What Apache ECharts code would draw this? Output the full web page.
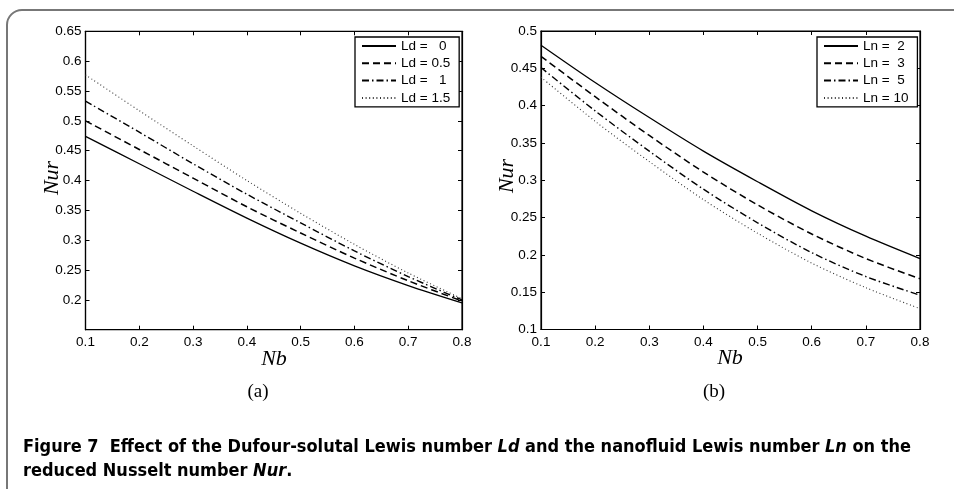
<!DOCTYPE html>
<html>
<head>
<meta charset="utf-8">
<script src="https://cdn.jsdelivr.net/npm/echarts@6/dist/echarts.min.js"></script>
<style>html,body{margin:0;padding:0;background:#fff}#c{width:954px;height:489px}</style>
</head>
<body>
<div id="c"></div>
<script>
// ---- data ----
const nb = [0.1, 0.2, 0.3, 0.4, 0.5, 0.6, 0.7, 0.8];
const ldNames = ['Ld =   0', 'Ld = 0.5', 'Ld =   1', 'Ld = 1.5'];
const ld0  = [0.474, 0.428, 0.382, 0.337, 0.295, 0.257, 0.224, 0.195];
const ld05 = [0.500, 0.452, 0.404, 0.356, 0.312, 0.270, 0.232, 0.198];
const ld1  = [0.533, 0.481, 0.428, 0.377, 0.329, 0.282, 0.239, 0.200];
const ld15 = [0.577, 0.517, 0.458, 0.400, 0.345, 0.293, 0.245, 0.202];
const lnNames = ['Ln =  2', 'Ln =  3', 'Ln =  5', 'Ln = 10'];
const ln2  = [0.481, 0.431, 0.384, 0.339, 0.298, 0.259, 0.225, 0.195];
const ln3  = [0.466, 0.412, 0.360, 0.311, 0.267, 0.228, 0.195, 0.168];
const ln5  = [0.451, 0.393, 0.339, 0.288, 0.243, 0.203, 0.171, 0.146];
const ln10 = [0.438, 0.379, 0.325, 0.274, 0.229, 0.189, 0.156, 0.128];
const xTicks = [0.1, 0.8, 0.1];           // min, max, interval
const yTicksA = [0.15, 0.65, 0.05];
const yTicksB = [0.1, 0.5, 0.05];
const caption1 = 'Figure 7  Effect of the Dufour-solutal Lewis number {i|Ld} and the nanofluid Lewis number {i|Ln} on the';
const caption2 = 'reduced Nusselt number {i|Nur}.';

// ---- styles ----
const styles = [
  {type: 'solid', width: 1.3, color: '#000'},
  {type: [7, 4], width: 1.5, color: '#000'},
  {type: [7, 3, 1.5, 3], width: 1.4, color: '#000'},
  {type: [1, 2.6], width: 1.1, color: '#333'}
];
const tickFont = {fontFamily: '"Liberation Sans", Arial, sans-serif', fontSize: 13.5, color: '#000'};
const fmt = v => String(+(+v).toFixed(2));

function xAxes(grid) {
  const base = {type: 'value', gridIndex: grid, min: xTicks[0], max: xTicks[1], interval: xTicks[2],
    splitLine: {show: false}, axisLine: {lineStyle: {color: '#000', width: 1.2}},
    axisTick: {inside: true, length: 4, lineStyle: {color: '#000'}}};
  return [
    Object.assign({}, base, {position: 'bottom', axisLabel: Object.assign({margin: 6, formatter: fmt}, tickFont)}),
    Object.assign({}, base, {position: 'top', axisLabel: {show: false}})
  ];
}
function yAxes(grid, t, hideMin) {
  const base = {type: 'value', gridIndex: grid, min: t[0], max: t[1], interval: t[2],
    splitLine: {show: false}, axisLine: {lineStyle: {color: '#000', width: 1.2}},
    axisTick: {inside: true, length: 4, lineStyle: {color: '#000'}}};
  return [
    Object.assign({}, base, {position: 'left', axisLabel: Object.assign({margin: 4,
      formatter: v => (hideMin && Math.abs(v - t[0]) < 1e-9) ? '' : fmt(v)}, tickFont)}),
    Object.assign({}, base, {position: 'right', axisLabel: {show: false}})
  ];
}
function mk(name, arr, i, axisIdx) {
  return {type: 'line', name: name, xAxisIndex: axisIdx, yAxisIndex: axisIdx,
    data: nb.map((x, k) => [x, arr[k]]), symbol: 'none', smooth: 0.3,
    lineStyle: styles[i], itemStyle: {color: styles[i].color}, z: 3, animation: false};
}
function legend(names, left, top) {
  return {data: names, orient: 'vertical', left: left, top: top, itemWidth: 34, itemHeight: 14, itemGap: 3.3,
    padding: [2, 9, 2, 6], borderColor: '#000', borderWidth: 1.3, backgroundColor: '#fff',
    itemStyle: {color: 'rgba(0,0,0,0)', borderWidth: 0, opacity: 0},
    textStyle: {fontFamily: '"Liberation Sans", Arial, sans-serif', fontSize: 13.5, color: '#000'},
    selectedMode: false};
}

// caption scale
const capFont = '"Liberation Sans Narrow", "DejaVu Sans Condensed", "Noto Sans", sans-serif';
const ctx = document.createElement('canvas').getContext('2d');
ctx.font = 'bold 18px ' + capFont;
const plain1 = caption1.replace(/\{i\|([^}]*)\}/g, '$1');
const capScale = 888 / ctx.measureText(plain1).width;
const richI = {i: {fontStyle: 'italic', fontWeight: 'bold', fontSize: 18, fontFamily: capFont, fill: '#000'}};
const serif = '"Liberation Serif", "Times New Roman", serif';

const chart = echarts.init(document.getElementById('c'), null, {renderer: 'canvas'});
chart.setOption({
  animation: false,
  grid: [
    {left: 85.5, top: 31.3, width: 376.5, height: 298.4, show: true, borderColor: '#000', borderWidth: 1.2, backgroundColor: 'transparent'},
    {left: 541, top: 31, width: 379, height: 298.5, show: true, borderColor: '#000', borderWidth: 1.2, backgroundColor: 'transparent'}
  ],
  xAxis: xAxes(0).concat(xAxes(1)),
  yAxis: yAxes(0, yTicksA, true).concat(yAxes(1, yTicksB, false)),
  legend: [legend(ldNames, 355, 37), legend(lnNames, 817, 37)],
  series: [
    mk(ldNames[0], ld0, 0, 0), mk(ldNames[1], ld05, 1, 0), mk(ldNames[2], ld1, 2, 0), mk(ldNames[3], ld15, 3, 0),
    mk(lnNames[0], ln2, 0, 2), mk(lnNames[1], ln3, 1, 2), mk(lnNames[2], ln5, 2, 2), mk(lnNames[3], ln10, 3, 2)
  ],
  graphic: [
    {type: 'rect', z: 0, shape: {x: 7, y: 10, width: 1200, height: 900, r: 15}, style: {fill: 'none', stroke: '#777', lineWidth: 2}},
    {type: 'text', x: 52, y: 178, rotation: Math.PI / 2, style: {text: 'Nur', fontFamily: serif, fontStyle: 'italic', fontSize: 22, fill: '#000', align: 'center', verticalAlign: 'middle'}},
    {type: 'text', x: 507, y: 176, rotation: Math.PI / 2, style: {text: 'Nur', fontFamily: serif, fontStyle: 'italic', fontSize: 22, fill: '#000', align: 'center', verticalAlign: 'middle'}},
    {type: 'text', x: 274, y: 359, style: {text: 'Nb', fontFamily: serif, fontStyle: 'italic', fontSize: 22, fill: '#000', align: 'center', verticalAlign: 'middle'}},
    {type: 'text', x: 730, y: 358, style: {text: 'Nb', fontFamily: serif, fontStyle: 'italic', fontSize: 22, fill: '#000', align: 'center', verticalAlign: 'middle'}},
    {type: 'text', x: 258, y: 392, style: {text: '(a)', fontFamily: serif, fontSize: 19, fill: '#000', align: 'center', verticalAlign: 'middle'}},
    {type: 'text', x: 714, y: 392, style: {text: '(b)', fontFamily: serif, fontSize: 19, fill: '#000', align: 'center', verticalAlign: 'middle'}},
    {type: 'text', x: 23, y: 447, scaleX: capScale, style: {text: caption1, rich: richI, fontFamily: capFont, fontWeight: 'bold', fontSize: 18, fill: '#000', align: 'left', verticalAlign: 'middle'}},
    {type: 'text', x: 23, y: 471, scaleX: capScale, style: {text: caption2, rich: richI, fontFamily: capFont, fontWeight: 'bold', fontSize: 18, fill: '#000', align: 'left', verticalAlign: 'middle'}}
  ]
});
</script>
</body>
</html>
